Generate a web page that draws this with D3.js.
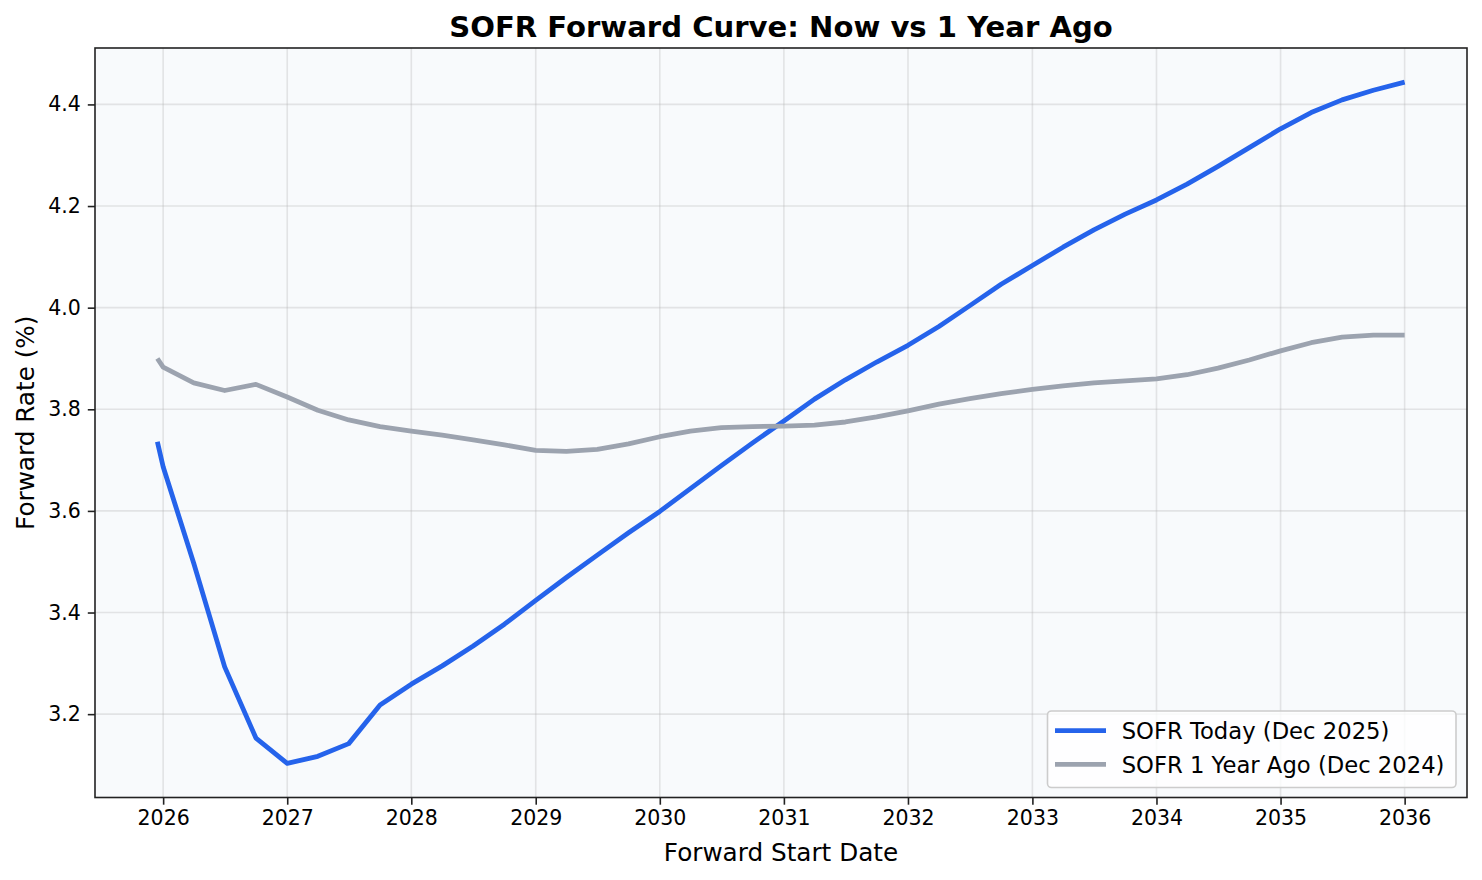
<!DOCTYPE html>
<html>
<head>
<meta charset="utf-8">
<script src="https://cdn.jsdelivr.net/npm/d3@7"></script>
<style>
  html, body { margin: 0; padding: 0; background: #ffffff; }
  svg { display: block; font-family: "DejaVu Sans", sans-serif; }
</style>
</head>
<body>
<svg id="chart" width="1482" height="880"></svg>
<script>
// ---- data ----
const dates = [
  "2025-12-15",
  "2026-01-01","2026-04-01","2026-07-01","2026-10-01",
  "2027-01-01","2027-04-01","2027-07-01","2027-10-01",
  "2028-01-01","2028-04-01","2028-07-01","2028-10-01",
  "2029-01-01","2029-04-01","2029-07-01","2029-10-01",
  "2030-01-01","2030-04-01","2030-07-01","2030-10-01",
  "2031-01-01","2031-04-01","2031-07-01","2031-10-01",
  "2032-01-01","2032-04-01","2032-07-01","2032-10-01",
  "2033-01-01","2033-04-01","2033-07-01","2033-10-01",
  "2034-01-01","2034-04-01","2034-07-01","2034-10-01",
  "2035-01-01","2035-04-01","2035-07-01","2035-10-01",
  "2036-01-01"
];
const sofrToday = [
  3.736,
  3.687, 3.497, 3.293, 3.153,
  3.103, 3.117, 3.142, 3.218,
  3.259, 3.295, 3.334, 3.377,
  3.424, 3.469, 3.513, 3.557,
  3.599, 3.644, 3.689, 3.734,
  3.777, 3.820, 3.858, 3.893,
  3.926, 3.963, 4.004, 4.046,
  4.083, 4.119, 4.153, 4.184,
  4.212, 4.243, 4.278, 4.315,
  4.352, 4.384, 4.409, 4.428,
  4.444
];
const sofrYearAgo = [
  3.900,
  3.883, 3.852, 3.837, 3.849,
  3.824, 3.798, 3.779, 3.766,
  3.757, 3.749, 3.740, 3.730,
  3.719, 3.717, 3.721, 3.732,
  3.746, 3.757, 3.764, 3.766,
  3.767, 3.769, 3.775, 3.785,
  3.797, 3.810, 3.821, 3.831,
  3.839, 3.846, 3.852, 3.856,
  3.860, 3.868, 3.881, 3.897,
  3.915, 3.931, 3.942, 3.946,
  3.946
];
const yTicks = [3.2, 3.4, 3.6, 3.8, 4.0, 4.2, 4.4];
const seriesNames = ["SOFR Today (Dec 2025)", "SOFR 1 Year Ago (Dec 2024)"];
const seriesColors = ["#2563eb", "#9ca3af"];
const titleText = "SOFR Forward Curve: Now vs 1 Year Ago";
const xLabel = "Forward Start Date";
const yLabel = "Forward Rate (%)";

// ---- layout ----
const svg = d3.select("#chart");
const L = 95, R = 1467, T = 48, B = 797.5;

const parse = d3.timeParse("%Y-%m-%d");
const xDates = dates.map(parse);
const xExt = d3.extent(xDates);
const xSpan = xExt[1] - xExt[0];
const x = d3.scaleTime()
  .domain([new Date(+xExt[0] - 0.05 * xSpan), new Date(+xExt[1] + 0.05 * xSpan)])
  .range([L, R]);

const allVals = sofrToday.concat(sofrYearAgo);
const yMin = d3.min(allVals), yMax = d3.max(allVals);
const ySpan = yMax - yMin;
const y = d3.scaleLinear()
  .domain([yMin - 0.05 * ySpan, yMax + 0.05 * ySpan])
  .range([B, T]);

// plot background
svg.append("rect")
  .attr("x", L).attr("y", T)
  .attr("width", R - L).attr("height", B - T)
  .attr("fill", "#f8fafc");

// grid
const xTickVals = d3.timeYear.range(new Date(2026, 0, 1), new Date(2036, 0, 2));
const grid = svg.append("g");
grid.selectAll("line.gx").data(xTickVals).enter().append("line")
  .attr("x1", d => x(d)).attr("x2", d => x(d))
  .attr("y1", T).attr("y2", B)
  .attr("stroke", "#b0b0b0").attr("stroke-opacity", 0.3).attr("stroke-width", 1.6);
grid.selectAll("line.gy").data(yTicks).enter().append("line")
  .attr("x1", L).attr("x2", R)
  .attr("y1", d => y(d)).attr("y2", d => y(d))
  .attr("stroke", "#b0b0b0").attr("stroke-opacity", 0.3).attr("stroke-width", 1.6);

// lines
const series = [sofrToday, sofrYearAgo];
const line = d3.line()
  .x((d, i) => x(xDates[i]))
  .y(d => y(d));

const clipId = "plotclip";
svg.append("clipPath").attr("id", clipId)
  .append("rect").attr("x", L).attr("y", T).attr("width", R - L).attr("height", B - T);

const lines = svg.append("g").attr("clip-path", `url(#${clipId})`);
series.forEach((s, k) => {
  lines.append("path")
    .datum(s)
    .attr("d", line)
    .attr("fill", "none")
    .attr("stroke", seriesColors[k])
    .attr("stroke-width", 4.8)
    .attr("stroke-linejoin", "round")
    .attr("stroke-linecap", "butt");
});

// axes
const xAxis = d3.axisBottom(x)
  .tickValues(xTickVals)
  .tickFormat(d3.timeFormat("%Y"))
  .tickSize(7.2).tickPadding(6);
const gx = svg.append("g").attr("transform", `translate(0,${B})`).call(xAxis);
gx.select(".domain").remove();
gx.selectAll(".tick line").attr("stroke", "#222").attr("stroke-width", 1.6);
gx.selectAll(".tick text")
  .attr("font-size", "20.5px")
  .attr("font-family", "DejaVu Sans")
  .attr("fill", "#000");

const yAxis = d3.axisLeft(y)
  .tickValues(yTicks)
  .tickFormat(d3.format(".1f"))
  .tickSize(7.2).tickPadding(7);
const gy = svg.append("g").attr("transform", `translate(${L},0)`).call(yAxis);
gy.select(".domain").remove();
gy.selectAll(".tick line").attr("stroke", "#222").attr("stroke-width", 1.6);
gy.selectAll(".tick text")
  .attr("font-size", "20.5px")
  .attr("font-family", "DejaVu Sans")
  .attr("fill", "#000");

// frame
svg.append("rect")
  .attr("x", L).attr("y", T)
  .attr("width", R - L).attr("height", B - T)
  .attr("fill", "none")
  .attr("stroke", "#222").attr("stroke-width", 1.6);

// title & labels
svg.append("text")
  .attr("x", (L + R) / 2).attr("y", 36.5)
  .attr("text-anchor", "middle")
  .attr("font-size", "29.1px").attr("font-weight", "bold")
  .attr("fill", "#000")
  .text(titleText);

svg.append("text")
  .attr("x", (L + R) / 2).attr("y", 861)
  .attr("text-anchor", "middle")
  .attr("font-size", "24.7px")
  .attr("fill", "#000")
  .text(xLabel);

svg.append("text")
  .attr("transform", `translate(33.5,${(T + B) / 2}) rotate(-90)`)
  .attr("text-anchor", "middle")
  .attr("font-size", "24.7px")
  .attr("fill", "#000")
  .text(yLabel);

// legend
const lg = svg.append("g");
lg.append("rect")
  .attr("x", 1047.5).attr("y", 711)
  .attr("width", 408.5).attr("height", 76.5)
  .attr("rx", 4).attr("ry", 4)
  .attr("fill", "#ffffff").attr("fill-opacity", 0.8)
  .attr("stroke", "#cccccc").attr("stroke-width", 1.6);
const legendRows = [730.7, 764.3];
seriesNames.forEach((name, k) => {
  lg.append("line")
    .attr("x1", 1055).attr("x2", 1106)
    .attr("y1", legendRows[k]).attr("y2", legendRows[k])
    .attr("stroke", seriesColors[k]).attr("stroke-width", 4.8);
  lg.append("text")
    .attr("x", 1121.7).attr("y", legendRows[k] + 8.4)
    .attr("font-size", "22.7px")
    .attr("fill", "#000")
    .text(name);
});
</script>
</body>
</html>
